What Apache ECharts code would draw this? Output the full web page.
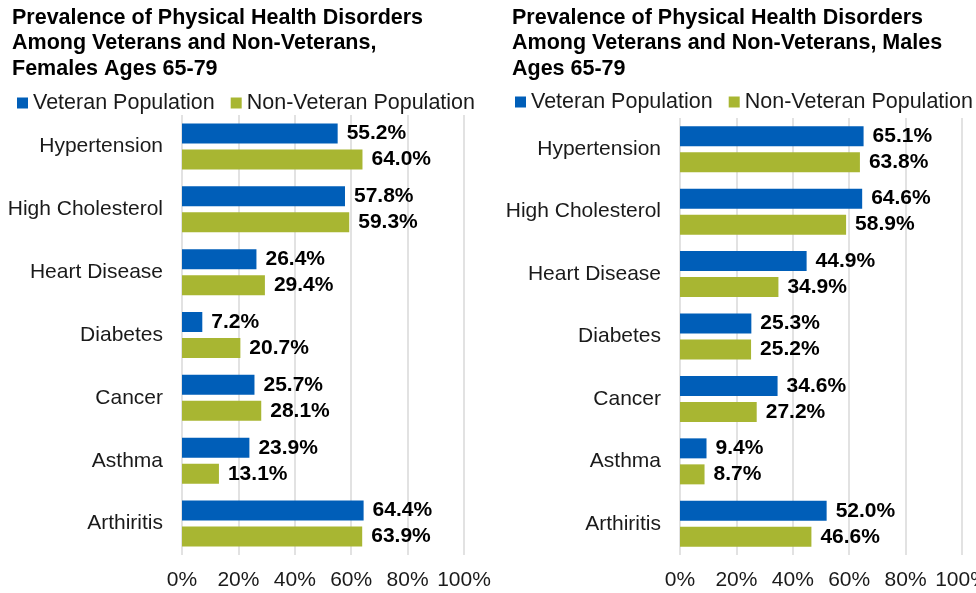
<!DOCTYPE html>
<html>
<head>
<meta charset="utf-8">
<script src="https://cdn.jsdelivr.net/npm/echarts@6/dist/echarts.min.js"></script>
<style>
  html, body { margin: 0; padding: 0; background: #fff; }
  #chart { width: 976px; height: 593px; }
</style>
</head>
<body>
<div id="chart"></div>
<script>
// data
const categories = ['Hypertension', 'High Cholesterol', 'Heart Disease', 'Diabetes', 'Cancer', 'Asthma', 'Arthiritis'];
const femaleVeteran = [55.2, 57.8, 26.4, 7.2, 25.7, 23.9, 64.4];
const femaleNonVeteran = [64.0, 59.3, 29.4, 20.7, 28.1, 13.1, 63.9];
const maleVeteran = [65.1, 64.6, 44.9, 25.3, 34.6, 9.4, 52.0];
const maleNonVeteran = [63.8, 58.9, 34.9, 25.2, 27.2, 8.7, 46.6];
const xTicks = [0, 20, 40, 60, 80, 100];
const seriesNames = ['Veteran Population', 'Non-Veteran Population'];

const BLUE = '#005EB8';
const GREEN = '#A8B632';
const FONT = '"Liberation Sans", Arial, sans-serif';

const chart = echarts.init(document.getElementById('chart'));

function xAxisFor(idx) {
  return {
    type: 'value', gridIndex: idx,
    min: xTicks[0], max: xTicks[xTicks.length - 1], interval: 20,
    axisLine: {show: false}, axisTick: {show: false},
    axisLabel: {formatter: '{value}%', fontFamily: FONT, fontSize: 21, color: '#1a1a1a', margin: 15},
    splitLine: {lineStyle: {color: '#d9d9d9', width: 1.5}}
  };
}
function yAxisFor(idx) {
  return {
    type: 'category', gridIndex: idx, data: categories, inverse: true,
    axisLine: {show: false}, axisTick: {show: false},
    axisLabel: {fontFamily: FONT, fontSize: 21, color: '#1a1a1a', margin: 19}
  };
}
function barSeries(name, data, color, idx) {
  return {
    name: name, type: 'bar', data: data,
    xAxisIndex: idx, yAxisIndex: idx,
    barWidth: 20, barGap: '30%', barCategoryGap: '40%',
    itemStyle: {color: color},
    label: {
      show: true, position: 'right', distance: 9,
      formatter: p => p.value.toFixed(1) + '%',
      fontFamily: FONT, fontSize: 21, fontWeight: 'bold', color: '#000'
    },
    animation: false
  };
}

const titleStyle = {fontFamily: FONT, fontSize: 21.5, fontWeight: 'bold', color: '#000', lineHeight: 25.5};
const legendBase = {
  data: seriesNames, icon: 'rect', itemWidth: 11, itemHeight: 11, itemGap: 16,
  width: 470, padding: [5, 0, 5, 5],
  textStyle: {fontFamily: FONT, fontSize: 21.5, color: '#1a1a1a'}
};

chart.setOption({
  animation: false,
  title: [
    {text: 'Prevalence of Physical Health Disorders\nAmong Veterans and Non-Veterans,\nFemales Ages 65-79', left: 7, top: 0, textStyle: titleStyle},
    {text: 'Prevalence of Physical Health Disorders\nAmong Veterans and Non-Veterans, Males\nAges 65-79', left: 507, top: 0, textStyle: titleStyle}
  ],
  legend: [
    Object.assign({left: 12, top: 87}, legendBase),
    Object.assign({left: 510, top: 86}, legendBase)
  ],
  grid: [
    {left: 182, top: 115, width: 282, height: 440, outerBoundsMode: 'none'},
    {left: 680, top: 118, width: 282, height: 437, outerBoundsMode: 'none'}
  ],
  xAxis: [xAxisFor(0), xAxisFor(1)],
  yAxis: [yAxisFor(0), yAxisFor(1)],
  series: [
    barSeries(seriesNames[0], femaleVeteran, BLUE, 0),
    barSeries(seriesNames[1], femaleNonVeteran, GREEN, 0),
    barSeries(seriesNames[0], maleVeteran, BLUE, 1),
    barSeries(seriesNames[1], maleNonVeteran, GREEN, 1)
  ]
});
</script>
</body>
</html>
